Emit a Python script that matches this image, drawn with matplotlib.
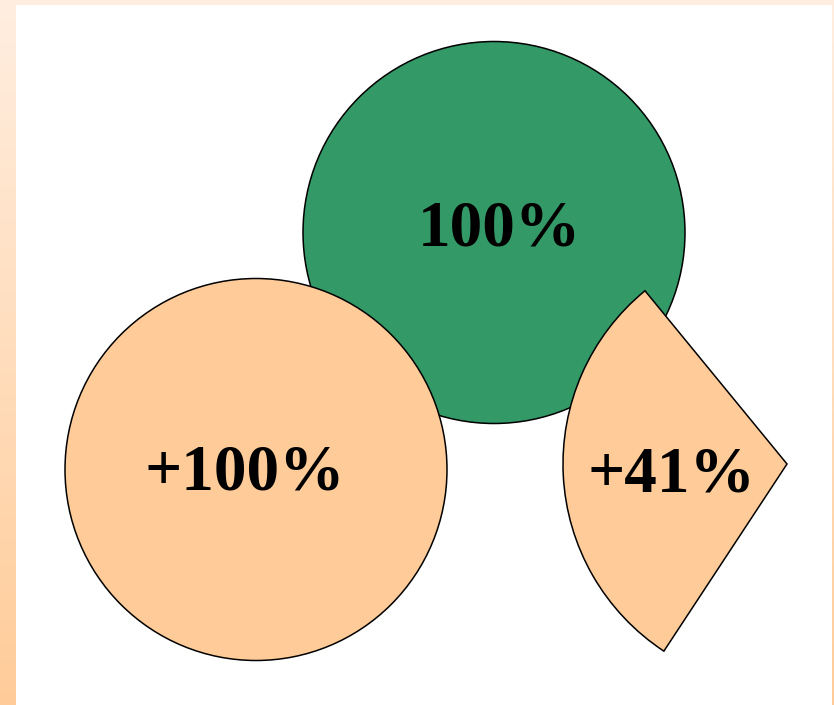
import matplotlib.pyplot as plt
import numpy as np
from matplotlib.patches import Circle, Wedge, Rectangle

# values shown on each shape (percent)
labels = ["100%", "+100%", "+41%"]
values = [100, 100, 41]
colors = ["#339966", "#FFCC99", "#FFCC99"]

W, H = 834, 705
R_BASE = 191          # radius of a 100% disc, px
R_WEDGE = 224         # radius of the partial wedge, px

plt.rcParams['font.family'] = 'serif'
plt.rcParams['font.serif'] = ['Liberation Serif', 'Times New Roman', 'DejaVu Serif']


def main():
    fig = plt.figure(figsize=(W / 100, H / 100), dpi=100)
    ax = fig.add_axes([0, 0, 1, 1])
    ax.set_xlim(0, W)
    ax.set_ylim(0, H)
    ax.set_aspect('equal')
    ax.axis('off')

    # peach gradient behind the white panel
    top = np.array([255, 238, 224]) / 255
    bottom = np.array([255, 204, 153]) / 255
    t = np.linspace(0, 1, 256)[:, None]
    grad = (top * (1 - t) + bottom * t)[:, None, :]
    ax.imshow(grad, extent=(0, W, 0, H), aspect='auto', zorder=0)
    ax.add_patch(Rectangle((16, 0), 816, H - 5, facecolor='white', edgecolor='none', zorder=1))

    # full discs: area proportional to value
    r_green = R_BASE * np.sqrt(values[0] / 100)
    r_orange = R_BASE * np.sqrt(values[1] / 100)
    ax.add_patch(Circle((494, 472.5), r_green, facecolor=colors[0],
                        edgecolor='black', lw=1.1, zorder=2))
    ax.add_patch(Circle((256, 235.5), r_orange, facecolor=colors[1],
                        edgecolor='black', lw=1.1, zorder=3))

    # partial wedge: same area rule, larger radius
    span = np.degrees(2 * np.pi * R_BASE ** 2 * values[2] / 100 / R_WEDGE ** 2)
    mid = 183
    ax.add_patch(Wedge((787, 241), R_WEDGE, mid - span / 2, mid + span / 2,
                       facecolor=colors[2], edgecolor='black', lw=1.1, zorder=4))

    font = dict(fontweight='bold', fontsize=47, ha='center', va='center', zorder=5)
    ax.text(499, 475, labels[0], **font)
    ax.text(245, 231, labels[1], **font)
    ax.text(671, 229, labels[2], **font)

    fig.savefig('out.png', dpi=100)
    plt.close('all')


if __name__ == '__main__':
    main()
